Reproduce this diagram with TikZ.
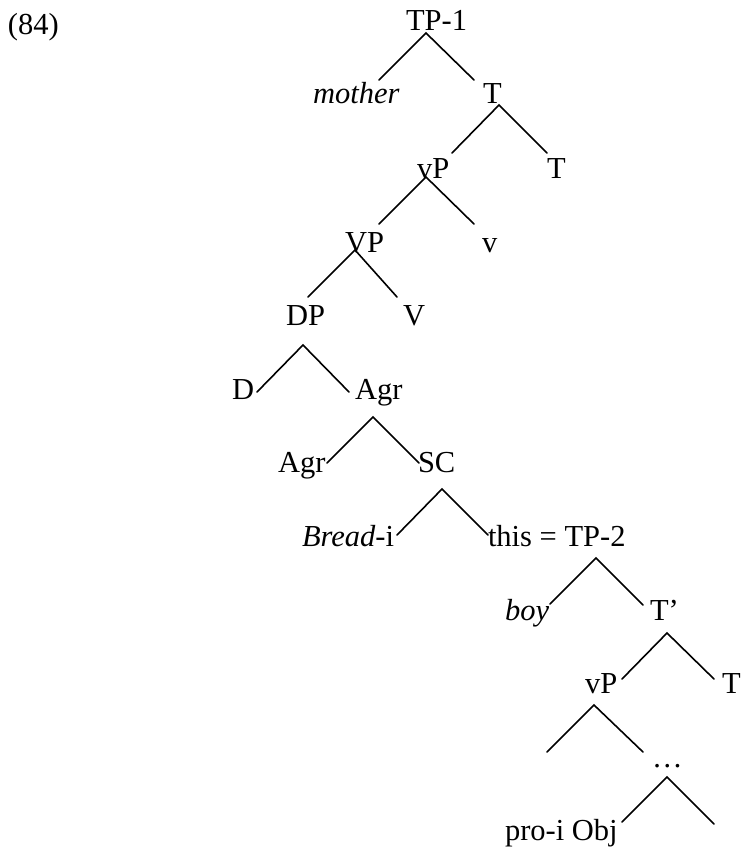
\documentclass[tikz,border=0pt]{standalone}
\usepackage{fontspec}
\setmainfont{Liberation Serif}
\begin{document}
\begin{tikzpicture}[x=1pt,y=-1pt,
  lbl/.style={anchor=base west,inner sep=0pt,outer sep=0pt,font=\fontsize{30.5}{36}\selectfont},
  branch/.style={line width=1.6pt,line cap=round,line join=miter}]
\useasboundingbox (0,0) rectangle (741,848);
% labels
\node[lbl] (ex) at (8,35) {(84)};
\node[lbl] (tp1) at (406,31) {TP-1};
\node[lbl] (mother) at (313,104) {\itshape mother};
\node[lbl] (tbar) at (483,103) {T};
\node[lbl] (vp1) at (417,178) {vP};
\node[lbl] (t1) at (547,178) {T};
\node[lbl] (VP) at (345,252) {VP};
\node[lbl] (v) at (482,252) {v};
\node[lbl] (dp) at (286,325) {DP};
\node[lbl] (V) at (403,325) {V};
\node[lbl] (d) at (232,399) {D};
\node[lbl] (agrbar) at (355,399) {Agr};
\node[lbl] (agr) at (278,472) {Agr};
\node[lbl] (sc) at (418,472) {SC};
\node[lbl] (bread) at (302,546) {\textit{Bread}-i};
\node[lbl] (tp2) at (488,546) {this = TP-2};
\node[lbl] (boy) at (505,620) {\itshape boy};
\node[lbl] (tprime) at (650,620) {T’};
\node[lbl] (vp2) at (585,693) {vP};
\node[lbl] (t2) at (722,693) {T};
\node[lbl] (dots) at (652,767) {…};
\node[lbl] (pro) at (505,840) {pro-i Obj};
% branch points
\coordinate (a1) at (426,33);  \coordinate (l1) at (379,80);  \coordinate (r1) at (474,80);
\coordinate (a2) at (499,105); \coordinate (l2) at (452,153); \coordinate (r2) at (547,153);
\coordinate (a3) at (426,177); \coordinate (l3) at (379,224); \coordinate (r3) at (474,224);
\coordinate (a4) at (355,250); \coordinate (l4) at (308,297); \coordinate (r4) at (397,297);
\coordinate (a5) at (303,345); \coordinate (l5) at (257,392); \coordinate (r5) at (349,392);
\coordinate (a6) at (373,417); \coordinate (l6) at (327,463); \coordinate (r6) at (419,463);
\coordinate (a7) at (442,489); \coordinate (l7) at (397,535); \coordinate (r7) at (488,535);
\coordinate (a8) at (596,558); \coordinate (l8) at (550,604); \coordinate (r8) at (643,605);
\coordinate (a9) at (667,633); \coordinate (l9) at (622,679); \coordinate (r9) at (714,679);
\coordinate (a10) at (594,705); \coordinate (l10) at (547,752); \coordinate (r10) at (643,752);
\coordinate (a11) at (667,777); \coordinate (l11) at (622,822); \coordinate (r11) at (714,824);
\foreach \i in {1,...,11}{
  \draw[branch] (l\i) -- (a\i) -- (r\i);
}
\end{tikzpicture}
\end{document}
